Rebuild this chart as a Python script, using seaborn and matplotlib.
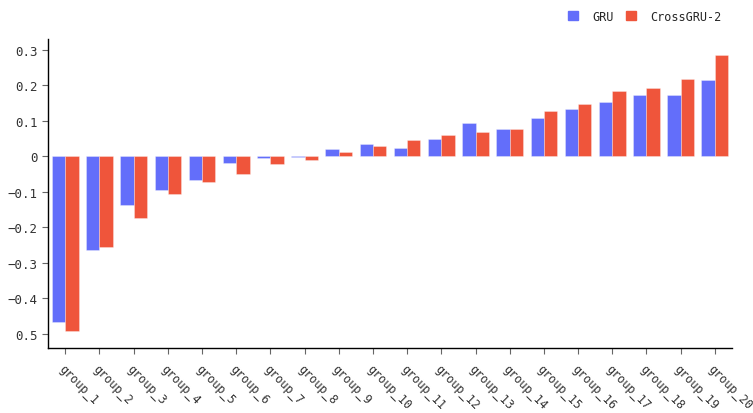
import seaborn as sns
import matplotlib.pyplot as plt
import numpy as np
import pandas as pd
from matplotlib.patches import Patch

groups = ['group_%d' % i for i in range(1, 21)]
gru = [-0.468, -0.263, -0.136, -0.094, -0.066, -0.020, -0.005, -0.002, 0.021, 0.035,
       0.024, 0.049, 0.093, 0.077, 0.107, 0.134, 0.152, 0.172, 0.174, 0.214]
cross = [-0.493, -0.256, -0.175, -0.105, -0.072, -0.049, -0.022, -0.009, 0.012, 0.029,
         0.047, 0.059, 0.068, 0.077, 0.127, 0.146, 0.184, 0.192, 0.219, 0.286]
series_names = ['GRU', 'CrossGRU-2']
ytick_vals = [0.3, 0.2, 0.1, 0, -0.1, -0.2, -0.3, -0.4, -0.5]
ytick_text = ['0.3', '0.2', '0.1', '0', '\u22120.1', '\u22120.2', '\u22120.3', '\u22120.4', '0.5']

sns.set_style('white')
plt.rcParams['font.family'] = ['DejaVu Sans Mono', 'DejaVu Sans']

df = pd.DataFrame({
    'group': groups * 2,
    'value': gru + cross,
    'series': [series_names[0]] * 20 + [series_names[1]] * 20,
})

fig = plt.figure(figsize=(7.53, 4.14), dpi=100)
ax = fig.add_axes([0.064, 0.157, 0.908, 0.746])
sns.barplot(data=df, x='group', y='value', hue='series', palette=['#636EFA', '#EF553B'],
            saturation=1, width=0.78, ax=ax, legend=False,
            edgecolor=(1, 1, 1, 0.35), linewidth=0.6)

ax.set_ylim(-0.54, 0.33)
ax.set_xlim(-0.5, 19.5)
ax.set_yticks(ytick_vals)
ax.set_yticklabels(ytick_text)
ax.set_xlabel('')
ax.set_ylabel('')
ax.tick_params(axis='both', which='both', length=4, width=0.8, color='#666666',
               labelcolor='#333333', labelsize=9)
ax.tick_params(axis='x', direction='out', bottom=True, pad=6, labelsize=8.5)
ax.tick_params(axis='y', direction='out', left=True)
plt.setp(ax.get_xticklabels(), rotation=-45, ha='left', rotation_mode='anchor')
for s in ['top', 'right']:
    ax.spines[s].set_visible(False)
for s in ['left', 'bottom']:
    ax.spines[s].set_color('#000000')
    ax.spines[s].set_linewidth(1)

handles = [Patch(color='#636EFA'), Patch(color='#EF553B')]
fig.legend(handles, series_names, loc='upper right', bbox_to_anchor=(0.972, 1.0), ncol=2,
           frameon=False, handlelength=0.8, handleheight=0.8, columnspacing=1.1,
           handletextpad=1.2, fontsize=8.5)

plt.savefig('out.png')
